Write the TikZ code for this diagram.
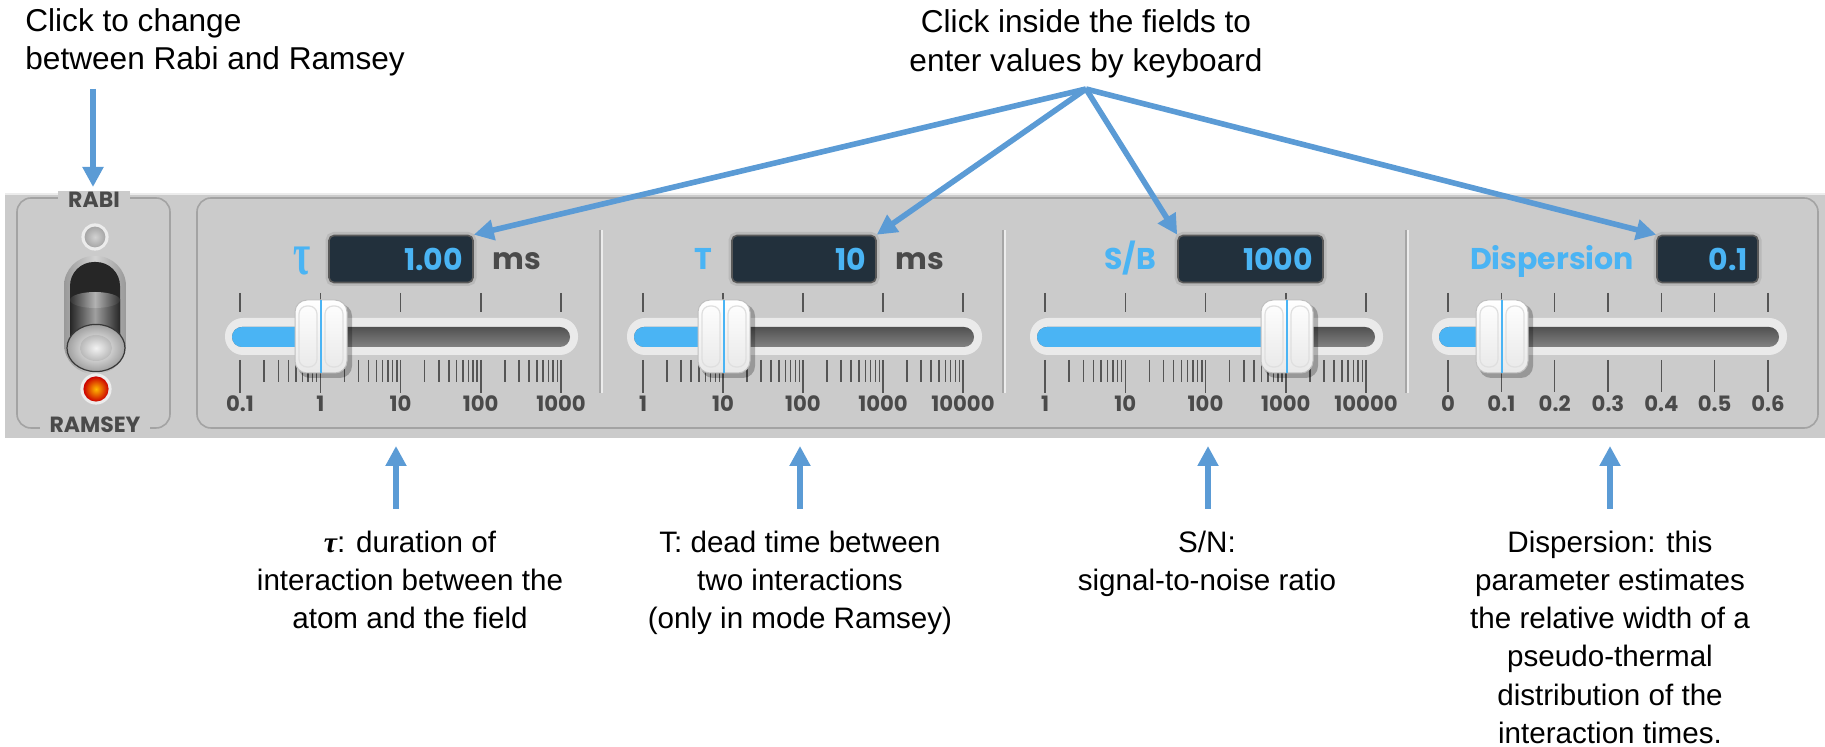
\documentclass[tikz,border=0pt]{standalone}
\usepackage{fontspec}
\setmainfont{Liberation Sans}
\newfontfamily\uifont{Poppins}
\newfontfamily\grserif{Liberation Serif}
\usetikzlibrary{arrows.meta}

\definecolor{arrblue}{HTML}{5B9BD5}
\definecolor{uiblue}{HTML}{4AB4F4}
\definecolor{valbg}{HTML}{22303C}
\definecolor{bandgray}{HTML}{CBCBCB}
\definecolor{txtgray}{HTML}{4A4A4A}
\definecolor{tickgray}{HTML}{555555}
\definecolor{trackout}{HTML}{EAEAEA}
\definecolor{trackin}{HTML}{6C6C6C}
\definecolor{borderg}{HTML}{A3A3A3}

% log scale: #1 first decade x, #2 decade spacing, #3 labels, #4 name prefix
\newcommand{\logscale}[4]{%
  \foreach \lab [count=\c from 0] in {#3} {
    \draw[majtick] ({#1+#2*\c},293) -- ++(0,19);
    \draw[majtick] ({#1+#2*\c},360) -- ++(0,33);
    \node[ticklab] (#4\c) at ({#1+#2*\c},412) {\lab};
  }
  \foreach \c in {0,1,2,3} {
    \foreach \l in {0.30103,0.47712,0.60206,0.69897,0.77815,0.84510,0.90309,0.95424} {
      \draw[mintick] ({#1+#2*(\c+\l)},360) -- ++(0,22);
    }
  }
}
% track: #1 left, #2 right, #3 knob x
\newcommand{\slidertrack}[3]{%
  \fill[trackout, rounded corners=9pt] (#1,318) rectangle (#2,355);
  \shade[top color=trackin!75!black, bottom color=trackin!85, rounded corners=5pt] (#1+7,327) rectangle (#2-8,347);
  \fill[uiblue, rounded corners=5pt] (#1+7,327) rectangle (#3,347);
}
% knob at x = #1
\newcommand{\sliderknob}[1]{%
  \fill[black, opacity=0.25, rounded corners=6pt] (#1-23,304) rectangle (#1+31,378);
  \shade[top color=white, bottom color=gray!18, draw=gray!50, line width=0.5pt, rounded corners=6pt] (#1-26,300) rectangle (#1+26,373);
  \draw[gray!25, line width=0.6pt, rounded corners=4pt] (#1-22,306) rectangle (#1-4,367);
  \draw[gray!25, line width=0.6pt, rounded corners=4pt] (#1+4,306) rectangle (#1+22,367);
  \draw[uiblue, line width=1.3pt] (#1,300) -- (#1,373);
}

\begin{document}
\begin{tikzpicture}[x=0.5pt,y=-0.5pt,
  arr/.style={draw=arrblue, line width=2.8pt, -{Triangle[width=10pt,length=10pt]}},
  note/.style={font=\fontsize{15.8pt}{19pt}\selectfont, inner sep=0pt, anchor=base},
  bnote/.style={font=\fontsize{14.8pt}{19pt}\selectfont, inner sep=0pt, anchor=base},
  majtick/.style={draw=tickgray, line width=0.75pt},
  mintick/.style={draw=tickgray, line width=0.75pt},
  ticklab/.style={font=\uifont\bfseries\fontsize{10.6pt}{12pt}\selectfont, text=txtgray, anchor=base, inner sep=0pt},
  valbox/.style={rectangle, rounded corners=2.5pt, fill=valbg, draw=gray!70!black, line width=0.8pt,
    preaction={draw=gray!55, line width=3.5pt}, minimum height=23.5pt, inner ysep=0pt, inner xsep=5pt,
    align=right, text=uiblue, font=\uifont\bfseries\fontsize{15pt}{17pt}\selectfont},
  parlab/.style={font=\uifont\bfseries\fontsize{15pt}{17pt}\selectfont, text=uiblue, anchor=base, inner sep=0pt},
  unitlab/.style={font=\uifont\bfseries\fontsize{15pt}{17pt}\selectfont, text=txtgray, anchor=base, inner sep=0pt},
  modelab/.style={font=\uifont\bfseries\fontsize{11pt}{12pt}\selectfont, text=txtgray, fill=bandgray, inner xsep=5pt, inner ysep=1pt, anchor=base},
  frame/.style={draw=borderg, line width=0.8pt, rounded corners=7pt},
  sepline/.style={draw=gray!70, line width=0.7pt},
]
\useasboundingbox (0,0) rectangle (1825,747);

% ---------- panel band ----------
\fill[bandgray] (5,193) rectangle (1825,438);
\draw[white!85!gray, line width=1pt] (5,194) -- (1825,194);
\draw[frame] (197,198) rectangle (1818,428);
\draw[frame] (17,198) rectangle (170,428);
\node[modelab] (rabi) at (94,208) {RABI};
\node[modelab] (ramsey) at (95,433) {RAMSEY};

% separators
\foreach \sx in {600,1003,1406} {
  \draw[sepline] (\sx,230) -- (\sx,393);
  \draw[white!85!gray, line width=0.6pt] (\sx+2,230) -- (\sx+2,393);
}

% ---------- toggle ----------
\fill[gray!15] (95,237) circle (6.8pt);
\shade[inner color=gray!35, outer color=gray!70] (95,237) circle (5.2pt);
\shade[rounded corners=15pt, left color=gray!80, right color=gray!80, middle color=gray!35] (64,256) rectangle (126,374);
\fill[black!85, rounded corners=12pt] (70,262) rectangle (120,368);
\shade[left color=black!85, right color=black!85, middle color=gray!75] (70,300) rectangle (120,346);
\shade[left color=black!80, right color=black!80, middle color=gray!60] (95,300) ellipse [x radius=12.5pt, y radius=4pt];
\shade[inner color=white, outer color=gray!75, draw=gray!45!black, line width=0.6pt] (96,348) ellipse [x radius=14.5pt, y radius=11.8pt];
\shade[inner color=gray!10, outer color=gray!55] (96,348) ellipse [x radius=8pt, y radius=6.5pt];
\fill[gray!15] (96,389) circle (7.8pt);
\shade[inner color=orange!55!yellow, outer color=red!80!black] (96,389) circle (6.3pt);

% ---------- scales ----------
\logscale{240}{80.25}{0.1,1,10,100,1000}{ta}
\logscale{643}{80}{1,10,100,1000,10000}{tb}
\logscale{1045}{80.25}{1,10,100,1000,10000}{tc}
\foreach \lab [count=\c from 0] in {0,0.1,0.2,0.3,0.4,0.5,0.6} {
  \draw[majtick] ({1448+53.33*\c},293) -- ++(0,19);
  \draw[majtick] ({1448+53.33*\c},360) -- ++(0,32);
  \node[ticklab] (td\c) at ({1448+53.33*\c},412) {\lab};
}

% ---------- sliders ----------
\slidertrack{225}{578}{321}
\slidertrack{627}{982}{724}
\slidertrack{1030}{1383}{1287}
\slidertrack{1432}{1787}{1502}
\sliderknob{321}
\sliderknob{724}
\sliderknob{1287}
\sliderknob{1502}

% ---------- labels and fields ----------
\node[parlab, font=\grserif\bfseries\fontsize{30pt}{32pt}\selectfont] (ltau) at (302,275) {\scalebox{0.62}[1]{τ}};
\node[valbox, text width=62pt] (v1) at (401,259) {1.00};
\node[unitlab] (u1) at (517,270) {ms};
\node[parlab] (lt) at (703,270) {T};
\node[valbox, text width=62pt] (v2) at (804,259) {10};
\node[unitlab] (u2) at (920,270) {ms};
\node[parlab] (lsb) at (1130,270) {S/B};
\node[valbox, text width=62.5pt] (v3) at (1250.5,259) {1000};
\node[parlab] (ldisp) at (1552,270) {Dispersion};
\node[valbox, text width=40.5pt] (v4) at (1707.5,259) {0.1};

% ---------- annotations ----------
\node[note, anchor=base west] (tl1) at (25,32) {Click to change};
\node[note, anchor=base west] (tl2) at (25,70) {between Rabi and Ramsey};
\coordinate (las) at (93,89);
\coordinate (lae) at (93,187);
\draw[arr] (las) -- (lae);

\node[note] (tc1) at (1086,33) {Click inside the fields to};
\node[note] (tc2) at (1086,72) {enter values by keyboard};
\coordinate (apex) at (1086,89);
\draw[arr] (apex) -- (v1.north east);
\draw[arr] (apex) -- (v2.north east);
\draw[arr] (apex) -- (v3.north west);
\draw[arr] (apex) -- (v4.north west);

\node[bnote] (ba1) at (410,553) {{\grserif\bfseries\itshape τ}: duration of};
\node[bnote] (ba2) at (410,591) {interaction between the};
\node[bnote] (ba3) at (410,629) {atom and the field};
\node[bnote] (bb1) at (800,553) {T: dead time between};
\node[bnote] (bb2) at (800,591) {two interactions};
\node[bnote] (bb3) at (800,629) {(only in mode Ramsey)};
\node[bnote] (bc1) at (1207,553) {S/N:};
\node[bnote] (bc2) at (1207,591) {signal-to-noise ratio};
\node[bnote] (bd1) at (1610,553) {Dispersion: this};
\node[bnote] (bd2) at (1610,591) {parameter estimates};
\node[bnote] (bd3) at (1610,629) {the relative width of a};
\node[bnote] (bd4) at (1610,667) {pseudo-thermal};
\node[bnote] (bd5) at (1610,705) {distribution of the};
\node[bnote] (bd6) at (1610,743) {interaction times.};

\foreach \ax/\nm in {396/a,800/b,1208/c,1610/d} {
  \coordinate (up\nm s) at (\ax,509);
  \coordinate (up\nm e) at (\ax,446);
  \draw[arr] (up\nm s) -- (up\nm e);
}
\end{tikzpicture}
\end{document}
